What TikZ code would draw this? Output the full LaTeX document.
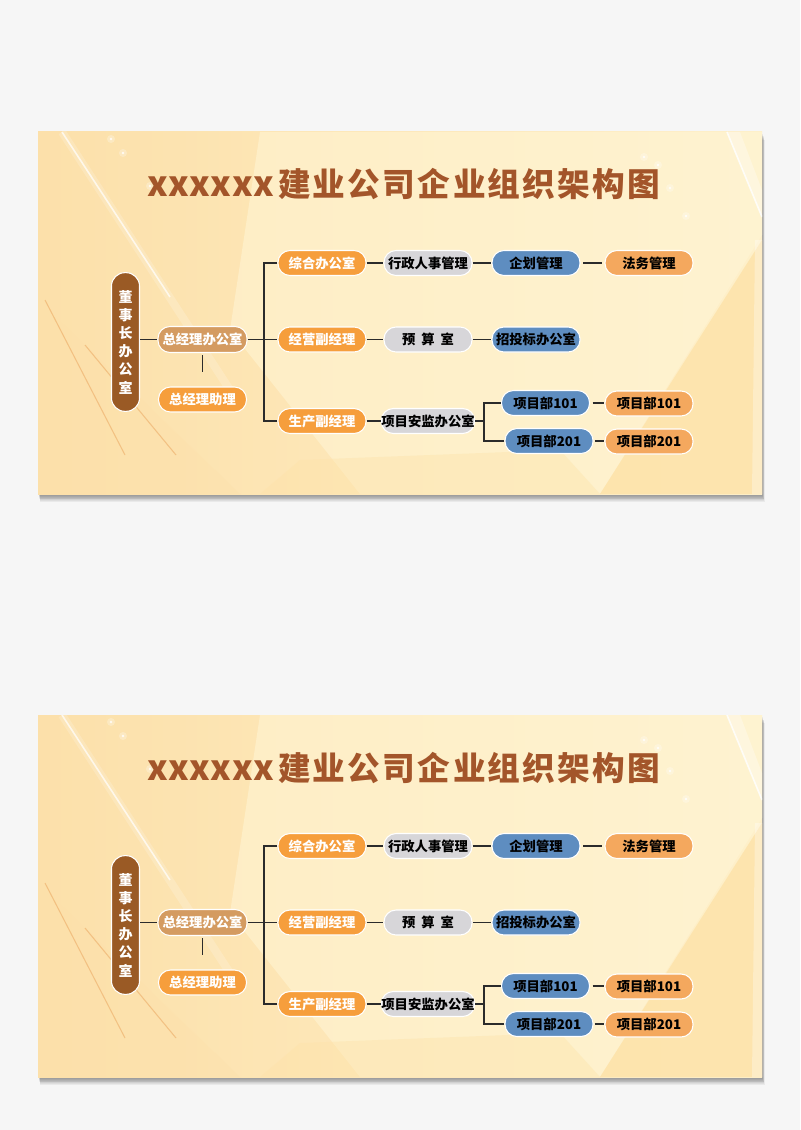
\documentclass[tikz,border=0pt]{standalone}
\usepackage{fontspec}
\setmainfont{Noto Sans CJK SC}
\usetikzlibrary{calc}
\definecolor{bgpage}{HTML}{F6F6F6}
\definecolor{orgA}{HTML}{F69E3C}
\definecolor{orgB}{HTML}{F4A85E}
\definecolor{tanc}{HTML}{D49B61}
\definecolor{brnc}{HTML}{9A5A25}
\definecolor{gryc}{HTML}{D7D6D9}
\definecolor{bluc}{HTML}{5E8DC0}
\definecolor{ttlc}{HTML}{A3552A}
\definecolor{lnkc}{HTML}{2B2B2B}
\definecolor{pA}{HTML}{FCE0AA}
\definecolor{pB}{HTML}{FEF0CA}
\definecolor{pale}{HTML}{FFF6D6}
\definecolor{peach}{HTML}{FDE2A8}
\definecolor{goldl}{HTML}{E9A25A}
\tikzset{
  pill/.style={rectangle, rounded corners=9pt, minimum width=66pt, minimum height=18.75pt,
    inner sep=0pt, draw=white, line width=0.8pt, font=\fontsize{10}{12}\selectfont\bfseries},
  opill/.style={pill, fill=orgA, text=white},
  lpill/.style={pill, fill=orgB, text=black},
  tpill/.style={pill, fill=tanc, text=white, minimum height=19.5pt, minimum width=66.75pt},
  gpill/.style={pill, fill=gryc, text=black},
  bpill/.style={pill, fill=bluc, text=black},
  lnk/.style={draw=lnkc, line width=1.1pt},
  spark/.style={fill=white, opacity=0.8},
}
\newcommand\orgpanel[2]{%
\begin{scope}[shift={(0,#2)}]
  \foreach \i in {1,...,9} {\fill[black,opacity=0.05] (38+0.25*\i,132+0.9*\i) rectangle (762+0.3*\i,494+0.9*\i);}
  \shade[left color=pA, right color=pB] (38,132) rectangle (762,494);
  \begin{scope}
    \clip (38,132) rectangle (762,494);
    \fill[pale, opacity=0.55] (260,132) -- (762,132) -- (762,235) -- (600,494) -- (360,494) -- (230,330) -- cycle;
    \fill[peach, opacity=0.8] (762,240) -- (762,494) -- (600,494) -- cycle;
    \fill[white, opacity=0.3] (755,240) -- (762,240) -- (762,494) -- (752,494) -- cycle;
    \fill[pA, opacity=0.35] (38,300) -- (38,494) -- (240,494) -- cycle;
    \fill[peach, opacity=0.4] (260,494) -- (600,494) -- (560,450) -- (300,460) -- cycle;
    \draw[white, line width=6pt, opacity=0.18] (62,132) -- (230,390);
    \draw[white, line width=1.2pt, opacity=0.7] (62,132) -- (170,297);
    \fill[white, opacity=0.3] (727,132) -- (740,132) -- (762,190) -- (762,217) -- cycle;
    \draw[white, line width=1.2pt, opacity=0.8] (727,132) -- (762,217);
    \draw[goldl, line width=0.8pt, opacity=0.5] (45,300) -- (125,455);
    \draw[goldl, line width=0.8pt, opacity=0.5] (85,345) -- (176,455);
    \foreach \p in {(111,139),(123,153),(150,186),(644,157),(658,165),(670,188),(686,216),(400,190)}
      {\fill[white, opacity=0.25] \p circle (4); \fill[spark] \p circle (1.3);}
  \end{scope}
  \node[anchor=base, text=ttlc, font=\bfseries] (title#1) at (404,197)
    {\fontsize{26pt}{30pt}\selectfont\makebox[95pt][s]{x\hfil x\hfil x\hfil x\hfil x\hfil x}\hspace{3pt}%
     \fontsize{24.5pt}{30pt}\selectfont\makebox[287pt][s]{建\hfil 业\hfil 公\hfil 司\hfil 企\hfil 业\hfil 组\hfil 织\hfil 架\hfil 构\hfil 图}};
  % nodes
  \node[pill, fill=brnc, text=white, minimum width=21pt, minimum height=104pt, rounded corners=10pt,
        align=center, font=\fontsize{10.5}{13.65}\selectfont\bfseries] (dsz#1) at (125.5,342) {董\\事\\长\\办\\公\\室};
  \node[tpill] (zjb#1) at (202.5,339.5) {总经理办公室};
  \node[opill] (zjz#1) at (202.5,399.5) {总经理助理};
  \node[opill] (zh#1) at (322,263) {综合办公室};
  \node[opill] (jy#1) at (322,339.5) {经营副经理};
  \node[opill] (sc#1) at (322,421) {生产副经理};
  \node[gpill] (xz#1) at (428,263) {行政人事管理};
  \node[gpill] (ys#1) at (428,339.5) {预\hspace{4.5pt}算\hspace{4.5pt}室};
  \node[gpill] (xm#1) at (428,421) {项目安监办公室};
  \node[bpill] (qh#1) at (536,263) {企划管理};
  \node[bpill] (zt#1) at (536,339.5) {招投标办公室};
  \node[bpill] (ba#1) at (545.5,403) {项目部101};
  \node[bpill] (bb#1) at (549,441) {项目部201};
  \node[lpill] (fw#1) at (649,263) {法务管理};
  \node[lpill] (oa#1) at (649,403.5) {项目部101};
  \node[lpill] (ob#1) at (649,441.5) {项目部201};
  \coordinate (tr#1) at (264,339.5);
  \coordinate (br#1) at (484,421);
  % connectors
  \draw[lnk] (zjb#1.west -| dsz#1.east) -- (zjb#1.west);
  \draw[lnk, shorten <=1.5pt, shorten >=10.5pt] (zjb#1.south) -- (zjz#1.north);
  \draw[lnk] (zjb#1.east) -- (jy#1.west);
  \draw[lnk] (zh#1.west) -| (tr#1);
  \draw[lnk] (sc#1.west) -| (tr#1);
  \draw[lnk] (zh#1.east) -- (xz#1.west);
  \draw[lnk] (xz#1.east) -- (qh#1.west);
  \draw[lnk, shorten <=2pt, shorten >=1.5pt] (qh#1.east) -- (fw#1.west);
  \draw[lnk] (jy#1.east) -- (ys#1.west);
  \draw[lnk] (ys#1.east) -- (zt#1.west);
  \draw[lnk] (sc#1.east) -- (xm#1.west);
  \draw[lnk] (xm#1.east) -- (br#1);
  \draw[lnk] (ba#1.west) -| (br#1);
  \draw[lnk] (bb#1.west) -| (br#1);
  \draw[lnk, shorten <=2pt] (ba#1.east) -- (ba#1.east -| oa#1.west);
  \draw[lnk, shorten <=1pt] (bb#1.east) -- (bb#1.east -| ob#1.west);
\end{scope}}
\begin{document}
\begin{tikzpicture}[x=0.75pt,y=-0.75pt]
\useasboundingbox (0,0) rectangle (800,1130);
\fill[bgpage] (0,0) rectangle (800,1130);
\orgpanel{a}{0}
\orgpanel{b}{583}
\end{tikzpicture}
\end{document}
